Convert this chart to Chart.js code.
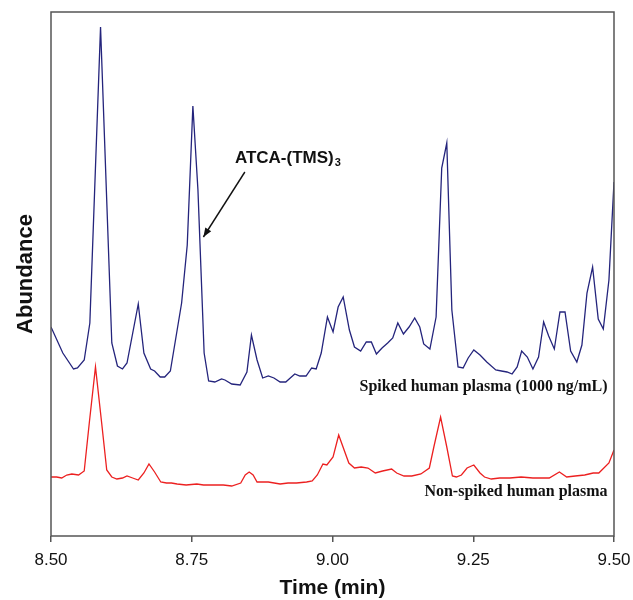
<!DOCTYPE html>
<html>
<head>
<meta charset="utf-8">
<title>ATCA-(TMS)3 chromatogram</title>
<script src="https://cdn.jsdelivr.net/npm/chart.js@4"></script>
<style>
  body { margin: 0; background: #fff; }
  canvas { display: block; }
</style>
</head>
<body>
<canvas id="chrom" width="633" height="600"></canvas>
<script>
// Spiked human plasma (1000 ng/mL) - retention time (min) / abundance (arbitrary units)
const spikedTime = [
  8.500, 8.521, 8.540, 8.547, 8.559, 8.569, 8.588, 8.608, 8.618, 8.627,
  8.635, 8.655, 8.665, 8.677, 8.684, 8.694, 8.702, 8.712, 8.732, 8.742,
  8.752, 8.761, 8.772, 8.780, 8.791, 8.803, 8.809, 8.821, 8.836, 8.848,
  8.856, 8.866, 8.876, 8.886, 8.896, 8.907, 8.917, 8.925, 8.933, 8.942,
  8.953, 8.963, 8.971, 8.980, 8.991, 9.001, 9.010, 9.019, 9.030, 9.039,
  9.050, 9.060, 9.069, 9.078, 9.088, 9.098, 9.107, 9.116, 9.126, 9.136,
  9.146, 9.155, 9.162, 9.173, 9.184, 9.194, 9.203, 9.212, 9.223, 9.232,
  9.241, 9.251, 9.262, 9.274, 9.290, 9.300, 9.310, 9.319, 9.328, 9.336,
  9.346, 9.356, 9.366, 9.375, 9.384, 9.394, 9.404, 9.413, 9.423, 9.434,
  9.443, 9.452, 9.462, 9.472, 9.481, 9.491, 9.500
];
const spikedAbund = [
  211, 185, 169, 170, 178, 215, 511, 195, 172, 169,
  175, 234, 185, 169, 167, 161, 161, 167, 235, 293,
  432, 348, 185, 157, 156, 159, 158, 154, 153, 166,
  203, 178, 160, 162, 160, 156, 156, 160, 164, 162,
  162, 170, 169, 185, 221, 206, 231, 241, 208, 191,
  187, 196, 196, 184, 190, 195, 200, 215, 204, 211,
  220, 211, 194, 189, 221, 370, 395, 228, 171, 170,
  180, 188, 183, 176, 168, 167, 166, 164, 171, 187,
  181, 169, 181, 216, 202, 189, 226, 226, 187, 176,
  193, 245, 271, 219, 209, 258, 356
];

// Non-spiked human plasma
const blankTime = [
  8.500, 8.510, 8.519, 8.528, 8.537, 8.549, 8.559, 8.568, 8.579, 8.590,
  8.599, 8.608, 8.617, 8.627, 8.635, 8.645, 8.655, 8.665, 8.674, 8.684,
  8.695, 8.705, 8.714, 8.724, 8.740, 8.759, 8.771, 8.788, 8.806, 8.821,
  8.837, 8.845, 8.852, 8.859, 8.866, 8.886, 8.907, 8.921, 8.936, 8.954,
  8.964, 8.973, 8.983, 8.990, 9.001, 9.011, 9.029, 9.039, 9.051, 9.063,
  9.076, 9.089, 9.105, 9.114, 9.127, 9.141, 9.157, 9.172, 9.180, 9.192,
  9.203, 9.213, 9.220, 9.229, 9.239, 9.251, 9.262, 9.270, 9.282, 9.297,
  9.315, 9.335, 9.356, 9.374, 9.385, 9.403, 9.416, 9.431, 9.448, 9.463,
  9.473, 9.491, 9.500
];
const blankAbund = [
  61, 61, 60, 63, 64, 63, 67, 115, 171, 115,
  68, 61, 59, 60, 62, 60, 58, 65, 74, 66,
  56, 55, 55, 54, 53, 54, 53, 53, 53, 52,
  55, 63, 66, 63, 56, 56, 54, 55, 55, 56,
  57, 63, 74, 73, 81, 103, 75, 70, 71, 70,
  65, 67, 69, 65, 62, 62, 64, 70, 91, 121,
  91, 62, 61, 63, 70, 73, 65, 61, 59, 60,
  60, 61, 60, 60, 60, 66, 61, 62, 63, 65,
  65, 75, 88
];

const timeTicks = [8.50, 8.75, 9.00, 9.25, 9.50];

// Annotation anchors (time, abundance)
const arrowTip = [8.7707, 301];
const arrowTail = [8.8443, 366];
const peakLabelAt = [8.8266, 375];
const spikedLabelAt = [9.4886, 147];
const blankLabelAt = [9.4886, 42];

function toPoints(times, values) {
  return times.map((t, i) => ({ x: t, y: values[i] }));
}

// Cadre, flèche et étiquettes dessinés par-dessus les courbes
const annotationsPlugin = {
  id: 'chromAnnotations',
  afterDatasetsDraw(chart) {
    const { ctx, chartArea: a, scales } = chart;
    const px = v => scales.x.getPixelForValue(v);
    const py = v => scales.y.getPixelForValue(v);
    ctx.save();

    // frame
    ctx.strokeStyle = '#555';
    ctx.lineWidth = 1.5;
    ctx.strokeRect(a.left, a.top, a.right - a.left, a.bottom - a.top);

    // arrow to the ATCA peak
    const x1 = px(arrowTail[0]), y1 = py(arrowTail[1]);
    const x2 = px(arrowTip[0]), y2 = py(arrowTip[1]);
    ctx.strokeStyle = '#111';
    ctx.fillStyle = '#111';
    ctx.lineWidth = 1.4;
    ctx.beginPath();
    ctx.moveTo(x1, y1);
    ctx.lineTo(x2, y2);
    ctx.stroke();
    const ang = Math.atan2(y2 - y1, x2 - x1);
    const hl = 9, hw = 3.5;
    ctx.beginPath();
    ctx.moveTo(x2, y2);
    ctx.lineTo(x2 - hl * Math.cos(ang) + hw * Math.sin(ang), y2 - hl * Math.sin(ang) - hw * Math.cos(ang));
    ctx.lineTo(x2 - hl * Math.cos(ang) - hw * Math.sin(ang), y2 - hl * Math.sin(ang) + hw * Math.cos(ang));
    ctx.closePath();
    ctx.fill();

    // ATCA-(TMS)3 label
    const lx = px(peakLabelAt[0]), ly = py(peakLabelAt[1]);
    ctx.textAlign = 'left';
    ctx.textBaseline = 'alphabetic';
    ctx.font = 'bold 17px "Liberation Sans", Arial, sans-serif';
    ctx.fillText('ATCA-(TMS)', lx, ly);
    const w = ctx.measureText('ATCA-(TMS)').width;
    ctx.font = 'bold 11px "Liberation Sans", Arial, sans-serif';
    ctx.fillText('3', lx + w + 1, ly + 3);

    // series labels
    ctx.textAlign = 'right';
    ctx.font = 'bold 16px "Liberation Serif", "Times New Roman", serif';
    ctx.fillText('Spiked human plasma (1000 ng/mL)', px(spikedLabelAt[0]), py(spikedLabelAt[1]));
    ctx.fillText('Non-spiked human plasma', px(blankLabelAt[0]), py(blankLabelAt[1]));

    ctx.restore();
  }
};

const chrom = new Chart(document.getElementById('chrom'), {
  type: 'line',
  data: {
    datasets: [
      {
        label: 'Spiked human plasma (1000 ng/mL)',
        data: toPoints(spikedTime, spikedAbund),
        borderColor: '#24247c',
        borderWidth: 1.3,
        pointRadius: 0,
        tension: 0,
        fill: false
      },
      {
        label: 'Non-spiked human plasma',
        data: toPoints(blankTime, blankAbund),
        borderColor: '#ec2020',
        borderWidth: 1.3,
        pointRadius: 0,
        tension: 0,
        fill: false
      }
    ]
  },
  options: {
    responsive: false,
    animation: false,
    layout: { padding: { top: 12, right: 19, left: 0, bottom: 0 } },
    plugins: {
      legend: { display: false },
      tooltip: { enabled: false }
    },
    scales: {
      x: {
        type: 'linear',
        min: 8.5,
        max: 9.5,
        // hauteur fixe, sans marge supplémentaire pour le dernier libellé
        afterFit: s => { s.height = 64; s.paddingLeft = 0; s.paddingRight = 0; },
        afterBuildTicks: s => { s.ticks = timeTicks.map(v => ({ value: v })); },
        ticks: {
          callback: v => Number(v).toFixed(2),
          font: { family: '"Liberation Sans", Arial, sans-serif', size: 17 },
          color: '#111',
          padding: 8,
          maxRotation: 0
        },
        grid: {
          display: true,
          drawOnChartArea: false,
          drawTicks: true,
          tickLength: 6,
          color: '#555',
          lineWidth: 1.5
        },
        border: { display: false },
        title: {
          display: true,
          text: 'Time (min)',
          color: '#111',
          font: { family: '"Liberation Sans", Arial, sans-serif', size: 21, weight: 'bold', lineHeight: 1 },
          padding: { top: 0, bottom: 1 }
        }
      },
      y: {
        type: 'linear',
        min: 2,
        max: 526,
        afterFit: s => { s.width = 51; },
        ticks: { display: false },
        grid: { display: false },
        border: { display: false },
        title: {
          display: true,
          text: 'Abundance',
          color: '#111',
          font: { family: '"Liberation Sans", Arial, sans-serif', size: 22, weight: 'bold', lineHeight: 1 },
          padding: { top: 15, bottom: 0 }
        }
      }
    }
  },
  plugins: [annotationsPlugin]
});
</script>
</body>
</html>
